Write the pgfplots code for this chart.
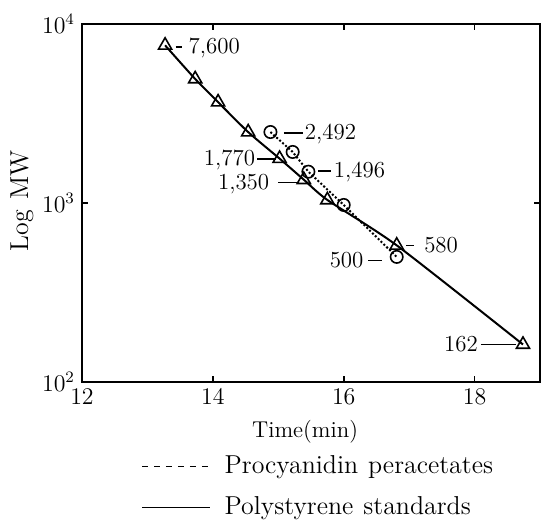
\documentclass[border=0pt]{standalone}
\usepackage{pgfplots}
\pgfplotsset{compat=1.18}
\newcommand{\dsh}[1]{\rule[3bp]{#1}{0.6pt}}
\begin{document}
\begin{tikzpicture}[font=\fontsize{11.5}{14}\selectfont]
\begin{axis}[
  name=ax,
  font=\fontsize{11.5}{14}\selectfont,
  scale only axis, width=229bp, height=179bp,
  ymode=log, xmin=12, xmax=19, ymin=100, ymax=10000,
  xtick={12,14,16,18}, ytick={100,1000,10000},
  yminorticks=false,
  tick align=inside, major tick length=3bp,
  axis line style={line width=0.8pt},
  every tick/.style={line width=0.8pt, black},
  xlabel={Time(min)}, ylabel={Log\hspace{5bp}MW},
  xlabel style={at={(axis description cs:0.487,-0.14)}, anchor=center},
  ylabel style={at={(axis description cs:-0.131,0.506)}, anchor=center, font=\fontsize{13}{15}\selectfont},
  legend style={draw=none, fill=none, at={(axis description cs:0.129,-0.205)}, anchor=north west,
    inner sep=0pt, row sep=10bp, nodes={inner sep=0pt}, font=\fontsize{13}{15}\selectfont},
  legend cell align=left,
  legend image code/.code={\draw[#1, line width=0.6pt] (0bp,0bp) -- (34bp,0bp);},
  /tikz/every odd column/.append style={column sep=7bp},
]
\addlegendimage{black, dashed}
\addlegendentry{Procyanidin\hspace{5bp}peracetates}
\addlegendimage{black, solid}
\addlegendentry{Polystyrene\hspace{5bp}standards}

\addplot[black, line width=1pt, smooth, tension=0.4, mark=triangle, mark size=3.8pt,
  mark options={solid, line width=0.8pt, fill=white}, forget plot] coordinates {
  (13.27,7600) (13.73,4930) (14.08,3660) (14.54,2490) (15.02,1770)
  (15.39,1350) (15.75,1040) (16.81,580) (18.74,162)};
\addplot[black, densely dotted, line width=1pt, mark=o, mark size=3.1pt,
  mark options={solid, line width=0.8pt, fill=white}, forget plot] coordinates {
  (14.88,2492) (15.22,1928) (15.46,1496) (16.00,975) (16.81,500)};

\node[anchor=west, inner sep=0pt] at (axis cs:13.425,7345) {\dsh{3bp}\hspace{3.5bp}7,600};
\node[anchor=west, inner sep=0pt] at (axis cs:15.08,2427) {\dsh{9.5bp}\hspace{1bp}2,492};
\node[anchor=east, inner sep=0pt] at (axis cs:14.973,1738) {1,770\hspace{1bp}\dsh{9.5bp}};
\node[anchor=west, inner sep=0pt] at (axis cs:15.60,1489) {\dsh{6.5bp}\hspace{1.5bp}1,496};
\node[anchor=east, inner sep=0pt] at (axis cs:15.295,1276) {1,350\hspace{4.5bp}\dsh{9.5bp}};
\node[anchor=west, inner sep=0pt] at (axis cs:16.95,582) {\dsh{4bp}\hspace{5bp}580};
\node[anchor=east, inner sep=0pt] at (axis cs:16.598,481) {500\hspace{2.5bp}\dsh{7bp}};
\node[anchor=east, inner sep=0pt] at (axis cs:18.636,163) {162\hspace{1.5bp}\dsh{17.5bp}};
\end{axis}
\pgfresetboundingbox
\path[use as bounding box] (ax.south west) ++(-41bp,-69bp) rectangle ++(271bp,260bp);
\end{tikzpicture}
\end{document}
